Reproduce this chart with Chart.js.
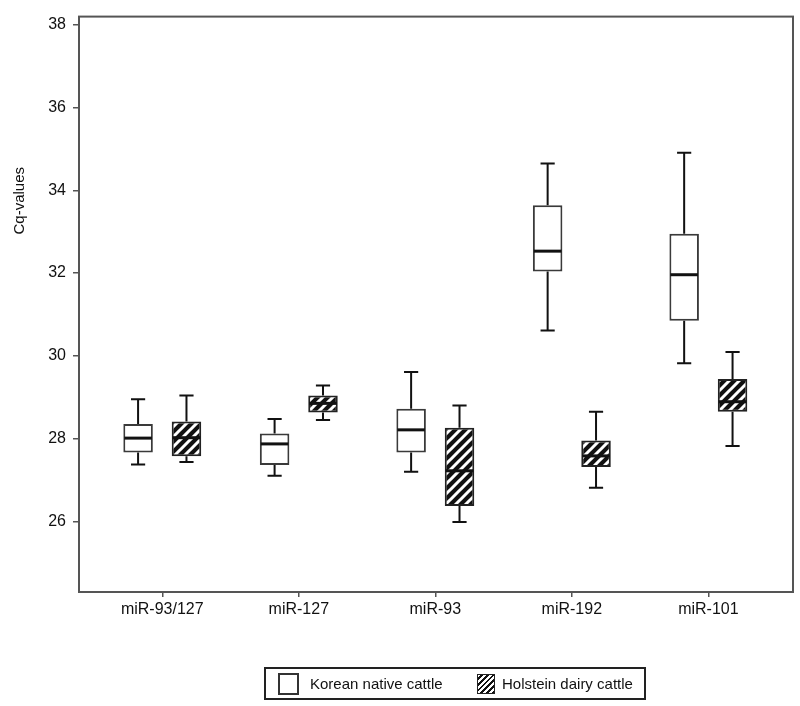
<!DOCTYPE html>
<html>
<head>
<meta charset="utf-8">
<script src="https://cdn.jsdelivr.net/npm/chart.js@4.4.1/dist/chart.umd.min.js"></script>
<style>
  html, body { margin: 0; padding: 0; background: #fff; }
  #wrap { position: relative; width: 800px; height: 706px; }
  .legend {
    position: absolute; left: 264px; top: 667px; width: 378px; height: 29px;
    border: 2px solid #222; font: 15px "Liberation Sans", Arial, sans-serif; color: #111;
  }
  .legend .sw { position: absolute; box-sizing: border-box; }
  .legend .txt { position: absolute; top: 0; line-height: 29px; white-space: nowrap; }
  .sw.plain { left: 12px; top: 4px; width: 21px; height: 22px; border: 2px solid #333; background: #fff; }
  .sw.hatch {
    left: 211px; top: 5px; width: 18px; height: 20px; border: 1.5px solid #222;
    background: repeating-linear-gradient(135deg, #fff 0 2px, #111 2px 4px);
  }
</style>
</head>
<body>
<div id="wrap">
  <canvas id="chart"></canvas>
  <div class="legend">
    <span class="sw plain"></span><span class="txt" style="left:44px">Korean native cattle</span>
    <span class="sw hatch"></span><span class="txt" style="left:236px">Holstein dairy cattle</span>
  </div>
</div>
<script>
const CATEGORIES = ['miR-93/127', 'miR-127', 'miR-93', 'miR-192', 'miR-101'];

// Korean native cattle
const KOREAN_MIN    = [27.37, 27.10, 27.20, 30.61, 29.82];
const KOREAN_Q1     = [27.66, 27.36, 27.66, 32.04, 30.85];
const KOREAN_MEDIAN = [28.01, 27.87, 28.21, 32.53, 31.96];
const KOREAN_Q3     = [28.35, 28.12, 28.72, 33.64, 32.95];
const KOREAN_MAX    = [28.95, 28.47, 29.61, 34.65, 34.91];

// Holstein dairy cattle
const HOLSTEIN_MIN    = [27.43, 28.45, 25.98, 26.81, 27.82];
const HOLSTEIN_Q1     = [27.57, 28.63, 26.37, 27.31, 28.65];
const HOLSTEIN_MEDIAN = [28.02, 28.85, 27.22, 27.58, 28.89];
const HOLSTEIN_Q3     = [28.41, 29.04, 28.26, 27.95, 29.44];
const HOLSTEIN_MAX    = [29.04, 29.28, 28.80, 28.65, 30.09];

const Y_TICK_STEP = 2;
const AXIS = '#555';
const INK = '#111';

Chart.defaults.font.family = '"Liberation Sans", Arial, sans-serif';
Chart.defaults.color = INK;

const canvas = document.getElementById('chart');

function makeHatch() {
  const n = 10;
  const tile = document.createElement('canvas');
  tile.width = n; tile.height = n;
  const g = tile.getContext('2d');
  g.fillStyle = '#111';
  g.fillRect(0, 0, n, n);
  g.strokeStyle = '#fff';
  g.lineWidth = 3;
  g.beginPath();
  g.moveTo(-2, n + 2); g.lineTo(n + 2, -2);
  g.moveTo(-2, 2);     g.lineTo(2, -2);
  g.moveTo(n - 2, n + 2); g.lineTo(n + 2, n - 2);
  g.stroke();
  return canvas.getContext('2d').createPattern(tile, 'repeat');
}

function boxData(q1, q3) {
  return CATEGORIES.map((_, i) => ({ x: i + 1, y: [q1[i], q3[i]] }));
}

// whiskers + medians drawn on top of the floating bars
const boxWhiskers = {
  id: 'boxWhiskers',
  afterDatasetsDraw(chart) {
    const { ctx } = chart;
    const y = chart.scales.y;
    chart.data.datasets.forEach((ds, di) => {
      chart.getDatasetMeta(di).data.forEach((bar, i) => {
        const { x, width } = bar.getProps(['x', 'width'], true);
        const cap = width * 0.48;
        const yMin = y.getPixelForValue(ds.stats.min[i]);
        const yQ1 = y.getPixelForValue(ds.stats.q1[i]);
        const yQ3 = y.getPixelForValue(ds.stats.q3[i]);
        const yMax = y.getPixelForValue(ds.stats.max[i]);
        const yMed = y.getPixelForValue(ds.stats.median[i]);
        ctx.save();
        ctx.strokeStyle = INK;
        ctx.lineWidth = 2;
        ctx.beginPath();
        ctx.moveTo(x, yQ3); ctx.lineTo(x, yMax);
        ctx.moveTo(x - cap / 2, yMax); ctx.lineTo(x + cap / 2, yMax);
        ctx.moveTo(x, yQ1); ctx.lineTo(x, yMin);
        ctx.moveTo(x - cap / 2, yMin); ctx.lineTo(x + cap / 2, yMin);
        ctx.stroke();
        ctx.lineWidth = 3;
        ctx.beginPath();
        ctx.moveTo(x - width / 2 + 1, yMed); ctx.lineTo(x + width / 2 - 1, yMed);
        ctx.stroke();
        ctx.restore();
      });
    });
  }
};

// plot frame and the y-axis title (sits above centre in the original)
const frame = {
  id: 'frame',
  afterDraw(chart) {
    const { ctx, chartArea: a } = chart;
    ctx.save();
    ctx.strokeStyle = AXIS;
    ctx.lineWidth = 2;
    ctx.strokeRect(a.left, a.top, a.right - a.left, a.bottom - a.top);
    ctx.translate(20, a.top + (a.bottom - a.top) * 0.32);
    ctx.rotate(-Math.PI / 2);
    ctx.fillStyle = INK;
    ctx.font = '15px "Liberation Sans", Arial, sans-serif';
    ctx.textAlign = 'center';
    ctx.textBaseline = 'middle';
    ctx.fillText('Cq-values', 0, 0);
    ctx.restore();
  }
};

new Chart(canvas, {
  type: 'bar',
  data: {
    datasets: [
      {
        label: 'Korean native cattle',
        data: boxData(KOREAN_Q1, KOREAN_Q3),
        backgroundColor: '#fff',
        borderColor: '#3a3a3a',
        borderWidth: 2,
        borderSkipped: false,
        stats: { min: KOREAN_MIN, q1: KOREAN_Q1, median: KOREAN_MEDIAN, q3: KOREAN_Q3, max: KOREAN_MAX },
      },
      {
        label: 'Holstein dairy cattle',
        data: boxData(HOLSTEIN_Q1, HOLSTEIN_Q3),
        backgroundColor: makeHatch(),
        borderColor: '#222',
        borderWidth: 2,
        borderSkipped: false,
        stats: { min: HOLSTEIN_MIN, q1: HOLSTEIN_Q1, median: HOLSTEIN_MEDIAN, q3: HOLSTEIN_Q3, max: HOLSTEIN_MAX },
      },
    ],
  },
  options: {
    responsive: true,
    maintainAspectRatio: false,
    animation: false,
    categoryPercentage: 0.709,
    barPercentage: 0.61,
    layout: { autoPadding: false, padding: { top: 7, right: 7, bottom: 84, left: 0 } },
    plugins: { legend: { display: false }, tooltip: { enabled: false } },
    scales: {
      x: {
        type: 'linear',
        min: 0.39,
        max: 5.62,
        offset: false,
        afterFit: s => { s.height = 30; },
        border: { color: AXIS, width: 2 },
        grid: { drawOnChartArea: false, tickLength: 5, color: AXIS, lineWidth: 1.5, offset: false },
        ticks: {
          stepSize: 1, includeBounds: false, autoSkip: false, maxRotation: 0,
          padding: 3, font: { size: 16 },
          callback: v => CATEGORIES[v - 1] ?? '',
        },
      },
      y: {
        min: 24.29,
        max: 38.2,
        beginAtZero: false,
        afterFit: s => { s.width = 79; },
        border: { color: AXIS, width: 2 },
        grid: { drawOnChartArea: false, tickLength: 6, color: AXIS, lineWidth: 1.5 },
        ticks: { stepSize: Y_TICK_STEP, includeBounds: false, padding: 7, font: { size: 16 } },
      },
    },
  },
  plugins: [boxWhiskers, frame],
});
</script>
</body>
</html>
